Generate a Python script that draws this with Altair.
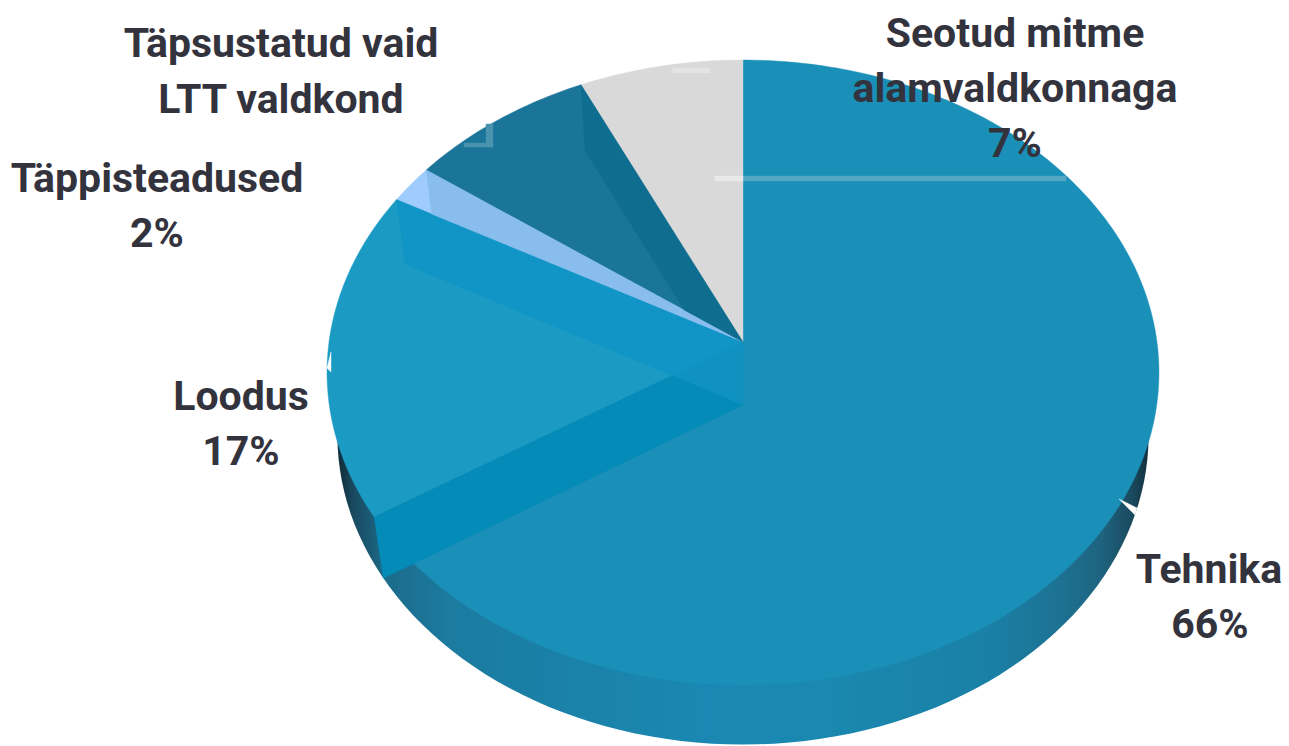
import math
import altair as alt

# --- chart data ---
categories = ["Tehnika", "Loodus", "Täppisteadused", "Täpsustatud vaid LTT valdkond", "Seotud mitme alamvaldkonnaga"]
shares = [66, 17, 2, 8, 7]
slice_colors = ["#1a90b8", "#1b9ac4", "#9fcbfd", "#1a7598", "#d9d9d9"]
label_lines = ["Seotud mitme", "alamvaldkonnaga", "7%", "Täpsustatud vaid", "LTT valdkond",
               "Täppisteadused", "2%", "Loodus", "17%", "Tehnika", "66%"]
label_x = [1015, 1015, 1015, 281, 281, 157, 157, 241, 241, 1209, 1210]
label_y = [47, 102, 157, 57, 113, 192, 247, 410, 465, 583, 638]

# --- 3D-pie projection (page margin is 8px) ---
M = 8
CX, CY = 743 - M, 342 - M          # apex of the top face
A, B, P = 414, 309.5, 0.0976       # perspective circle parameters
BCY = 405 - M                      # apex of the bottom face
BSX, BSY = 0.975, 0.99


def top(f):
    t = 2 * math.pi * f
    w = 1 + P * math.cos(t)
    return (CX + A * math.sin(t) / w, CY - B * math.cos(t) / w)


def bot(f):
    t = 2 * math.pi * f
    w = 1 + P * math.cos(t)
    return (CX + BSX * A * math.sin(t) / w, BCY - BSY * B * math.cos(t) / w)


def isect(p1, p2, p3, p4):
    d = (p1[0] - p2[0]) * (p3[1] - p4[1]) - (p1[1] - p2[1]) * (p3[0] - p4[0])
    a = p1[0] * p2[1] - p1[1] * p2[0]
    b = p3[0] * p4[1] - p3[1] * p4[0]
    return ((a * (p3[0] - p4[0]) - (p1[0] - p2[0]) * b) / d,
            (a * (p3[1] - p4[1]) - (p1[1] - p2[1]) * b) / d)


def feature(name, pts):
    ring = [list(p) for p in pts] + [list(pts[0])]
    return {"type": "Feature", "properties": {"name": name},
            "geometry": {"type": "Polygon", "coordinates": [ring]}}


apex, bapex = (CX, CY), (CX, BCY)
edges = [0]
for s in shares:
    edges.append(edges[-1] + s / 100)

features, names, colors = [], [], []


def add(name, pts, color):
    features.append(feature(name, pts))
    names.append(name)
    colors.append(color)


for i, c in enumerate(categories):
    n = max(4, int(shares[i] * 4))
    arc = [top(edges[i] + (edges[i + 1] - edges[i]) * k / n) for k in range(n + 1)]
    add(c, [apex] + arc, slice_colors[i])

f66, f83, f85, f93 = edges[1], edges[2], edges[3], edges[4]

# see-through inner walls of the exploded 3D slices
add("wall_lower", [apex, top(f66), bot(f66), bapex], "#058bb8")
r = isect(bot(f83), bapex, apex, top(f66))
add("wall_upper", [top(f83), bot(f83), r, apex], "#1095c6")
add("wall_mid", [r, apex, bapex], "#0f92c0")
q = isect(top(f85), bot(f85), apex, top(f83))
add("wall_sci", [top(f85), q, apex], "#88bdee")
u = isect(bot(f93), bapex, apex, top(f85))
add("wall_ltt", [top(f93), bot(f93), u, apex], "#0f6d90")


def box(x0, y0, x1, y1):
    return [(x0 - M, y0 - M), (x1 - M, y0 - M), (x1 - M, y1 - M), (x0 - M, y1 - M)]


# faint leftovers of the label boxes on the pie
add("ghost1", box(743, 176, 1066, 181), "#55a6c5")
add("ghost1b", box(715, 176, 743, 181), "#e9e9e9")
add("ghost2", box(672, 68, 710, 73), "#e4e4e4")
add("ghost3", box(464, 143, 493, 147), "#4a93ae")
add("ghost4", box(486, 124, 493, 147), "#4a93ae")
add("notch", [(1119 - M, 499 - M), (1137 - M, 508 - M), (1135 - M, 515 - M)], "#ffffff")
add("notch2", [(331 - M, 352 - M), (327 - M, 368 - M), (331 - M, 372 - M)], "#ffffff")

proj = dict(type="identity", scale=1, translate=[0, 0])

# side wall: whole bottom face, shaded left to right
n = 180
base_outline = [bot(k / n) for k in range(n)]
side_stops = [(0.0, "#0f2a38"), (0.02, "#1a4a60"), (0.06, "#1c6b8a"), (0.14, "#1b7ba0"),
              (0.45, "#1a88b2"), (0.6, "#1a88b0"), (0.8, "#1a80a6"), (0.89, "#1d7293"),
              (0.94, "#1f6480"), (0.98, "#1a4a5e"), (1.0, "#13303e")]
side = alt.Chart(alt.Data(values=[feature("side", base_outline)])).mark_geoshape(
    fill=alt.LinearGradient(
        gradient="linear", x1=0, x2=1, y1=0, y2=0,
        stops=[alt.GradientStop(offset=o, color=c) for o, c in side_stops]),
    strokeWidth=0,
).project(**proj)

color_scale = alt.Scale(domain=names, range=colors)
faces = alt.Chart(alt.Data(values=features)).mark_geoshape(strokeWidth=0.4).encode(
    fill=alt.Fill("properties.name:N", scale=color_scale, legend=None, sort=None),
    stroke=alt.Stroke("properties.name:N", scale=color_scale, legend=None, sort=None),
).project(**proj)

labels = alt.Chart(alt.Data(values=[
    {"t": t, "x": x - M, "y": y - M} for t, x, y in zip(label_lines, label_x, label_y)
])).mark_text(
    font="Roboto", fontWeight="bold", fontSize=41,
    color="#33333d", align="center", baseline="alphabetic",
).encode(
    x=alt.X("x:Q", scale=None, axis=None),
    y=alt.Y("y:Q", scale=None, axis=None),
    text="t:N",
)

chart = alt.layer(side, faces, labels).properties(
    width=1273, height=738, padding=0, autosize="none",
).configure_view(stroke=None)

chart.save("out.html", embed_options={"renderer": "svg", "actions": False})
